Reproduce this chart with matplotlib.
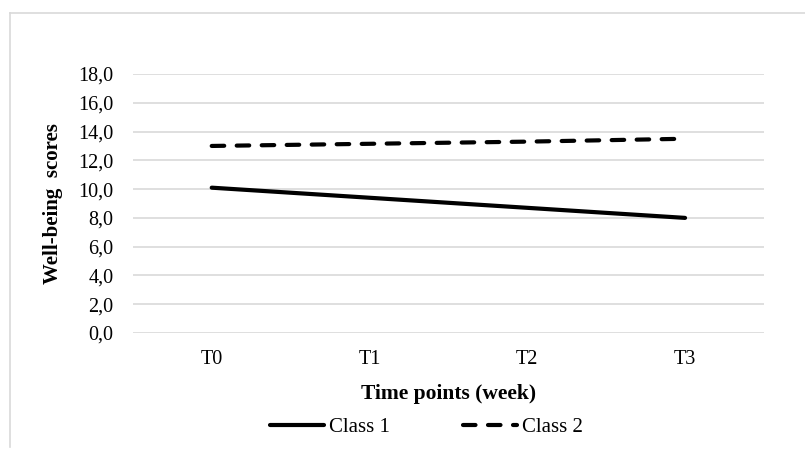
import matplotlib.pyplot as plt
from matplotlib.ticker import FuncFormatter
from matplotlib.lines import Line2D

plt.rcParams['font.family'] = ['Liberation Serif', 'DejaVu Serif']

time_points = ['T0', 'T1', 'T2', 'T3']
class1 = [10.1, 9.4, 8.7, 8.0]
class2 = [13.0, 13.15, 13.3, 13.5]
y_ticks = [0, 2, 4, 6, 8, 10, 12, 14, 16, 18]

fig = plt.figure(figsize=(8.05, 4.54), dpi=100)
ax = fig.add_axes([0.165, 0.2665, 0.784, 0.5705])

x = range(len(time_points))
ax.plot(x, class1, color='black', linewidth=3, solid_capstyle='round', label='Class 1')
ax.plot(x, class2, color='black', linewidth=3, dashes=(3, 3), dash_capstyle='round', label='Class 2')

ax.set_xlim(-0.5, 3.5)
ax.set_ylim(0, 18)
ax.set_yticks(y_ticks)
ax.yaxis.set_major_formatter(FuncFormatter(lambda v, p: ('%.1f' % v).replace('.', ',')))
ax.set_xticks(list(x))
ax.set_xticklabels(time_points)
ax.grid(axis='y', color='#d9d9d9', linewidth=1.2)
ax.set_axisbelow(True)
for s in ax.spines.values():
    s.set_visible(False)
ax.tick_params(axis='both', length=0, labelsize=14.5)
ax.tick_params(axis='y', pad=14)
ax.tick_params(axis='x', pad=12)

ax.set_ylabel('Well-being  scores', fontsize=15, fontweight='bold', labelpad=11)
ax.set_xlabel('Time points (week)', fontsize=15.5, fontweight='bold', labelpad=11)

fig.legend(loc='center', bbox_to_anchor=(0.53, 0.058), ncol=2, frameon=False,
           fontsize=15, handlelength=2.6, handletextpad=0.25, columnspacing=3.5)

# light outer frame
fig.add_artist(Line2D([10 / 805, 10 / 805], [1 - 447 / 454, 1 - 13 / 454], color='#d9d9d9', linewidth=1.2))
fig.add_artist(Line2D([10 / 805, 1], [1 - 13 / 454, 1 - 13 / 454], color='#d9d9d9', linewidth=1.2))

fig.savefig('out.png', dpi=100)
